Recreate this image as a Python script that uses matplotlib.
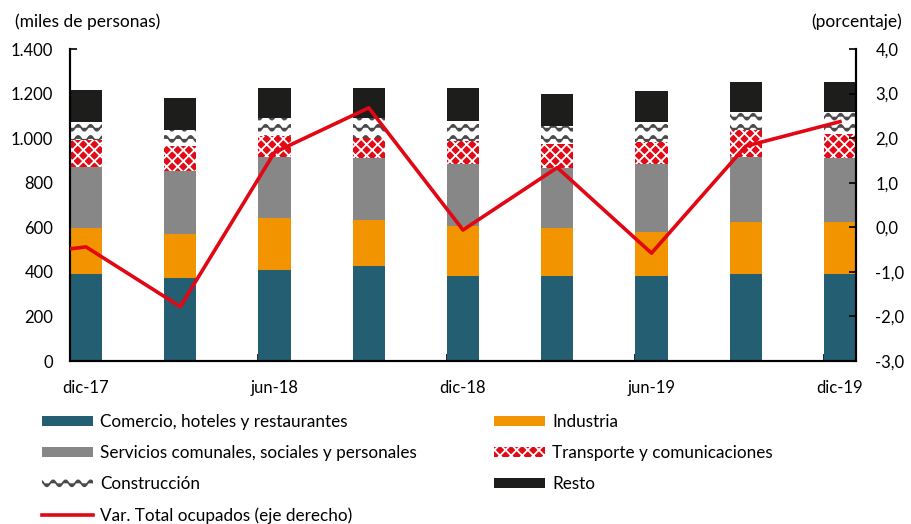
import numpy as np
import matplotlib
matplotlib.use("Agg")
import matplotlib.pyplot as plt
from matplotlib import hatch as mhatch
from matplotlib.path import Path
from matplotlib.ticker import FuncFormatter

periodos = ['dic-17', 'mar-18', 'jun-18', 'sep-18', 'dic-18',
            'mar-19', 'jun-19', 'sep-19', 'dic-19']
comercio = [392, 372, 408, 426, 381, 381, 381, 392, 392]
industria = [205, 198, 232, 207, 225, 214, 198, 232, 232]
servicios = [275, 284, 277, 276, 276, 269, 303, 293, 285]
transporte = [119, 111, 92, 90, 106, 108, 102, 119, 109]
construccion = [80, 71, 83, 90, 90, 82, 87, 80, 98]
resto = [143, 142, 131, 134, 145, 142, 142, 134, 134]
# variacion total ocupados (incluye sep-17, fuera del grafico)
var_total = [-0.7, -0.44, -1.78, 1.68, 2.68, -0.06, 1.34, -0.58, 1.82, 2.37]


# trama ondulada para Construccion (reemplaza la trama 'o')
class WaveHatch(mhatch.HatchPatternBase):
    def __init__(self, hatch, density):
        self.num_rows = 9 if 'o' in hatch else 0
        self.num_pts = 81
        self.num_vertices = self.num_rows * self.num_pts

    def set_vertices_and_codes(self, vertices, codes):
        t = np.linspace(0, 1, self.num_pts)
        k = 0
        for r in range(self.num_rows):
            vertices[k:k + self.num_pts, 0] = t
            vertices[k:k + self.num_pts, 1] = (r + 0.5) / self.num_rows + 0.03 * np.sin(2 * np.pi * 8 * t)
            codes[k] = Path.MOVETO
            codes[k + 1:k + self.num_pts] = Path.LINETO
            k += self.num_pts


mhatch._hatch_types = [WaveHatch if t is mhatch.SmallCircles else t for t in mhatch._hatch_types]

plt.rcParams['font.family'] = ['Lato', 'DejaVu Sans']
plt.rcParams['font.size'] = 12.5
plt.rcParams['hatch.linewidth'] = 1.3

fig = plt.figure(figsize=(9.11, 5.24), dpi=100)
ax = fig.add_axes([70 / 911, 1 - 361 / 524, 786 / 911, 312 / 524])
ax2 = ax.twinx()

x = np.arange(len(periodos))
w = 0.34
bottom = np.zeros(len(x))
series = [
    (comercio, 'Comercio, hoteles y restaurantes', dict(color='#245e73')),
    (industria, 'Industria', dict(color='#f29400')),
    (servicios, 'Servicios comunales, sociales y personales', dict(color='#878787')),
    (transporte, 'Transporte y comunicaciones', dict(facecolor='#e30a17', edgecolor='white', hatch='xxx', linewidth=0)),
    (construccion, 'Construcción', dict(facecolor='white', edgecolor='#4a4a4a', hatch='o', linewidth=0)),
    (resto, 'Resto', dict(color='#1d1d1b')),
]
handles = {}
for vals, name, style in series:
    b = ax.bar(x, vals, w, bottom=bottom, label=name, zorder=2, **style)
    handles[name] = b
    bottom += np.array(vals)

line, = ax2.plot(np.arange(-1, len(periodos)), var_total, color='#e30613', lw=2.6,
                 label='Var. Total ocupados (eje derecho)', zorder=3)

ax.set_xlim(-0.17, 8.17)
ax.set_ylim(0, 1400)
ax.set_yticks(range(0, 1401, 200))
ax.yaxis.set_major_formatter(FuncFormatter(lambda v, p: f'{int(v):,}'.replace(',', '.')))
ax2.set_ylim(-3, 4)
ax2.set_yticks(range(-3, 5))
ax2.yaxis.set_major_formatter(FuncFormatter(lambda v, p: f'{v:.1f}'.replace('.', ',')))

ax.set_xticks(x[::2])
ax.set_xticklabels(periodos[::2])
ax.set_xticks([-0.17, 1.83, 3.83, 5.83, 7.83], minor=True)
ax.tick_params(axis='x', which='major', length=0, pad=14, labelsize=12)
ax.tick_params(axis='x', which='minor', direction='in', length=5, width=1.2)
ax.tick_params(axis='y', direction='in', length=5, width=1.2, pad=12, labelsize=12)
ax2.tick_params(axis='y', direction='in', length=5, width=1.2, pad=14, labelsize=12)

for a in (ax, ax2):
    a.spines['top'].set_visible(False)
    for s in ('left', 'right', 'bottom'):
        a.spines[s].set_linewidth(1.5)

fig.text(15 / 911, 1 - 22 / 524, '(miles de personas)', va='center', ha='left')
fig.text(902 / 911, 1 - 22 / 524, '(porcentaje)', va='center', ha='right')

leg_kw = dict(frameon=False, handlelength=3.0, handleheight=0.6, handletextpad=0.4,
              labelspacing=0.88, borderaxespad=0, borderpad=0, fontsize=12.3)
col1 = ['Comercio, hoteles y restaurantes', 'Servicios comunales, sociales y personales', 'Construcción']
col2 = ['Industria', 'Transporte y comunicaciones', 'Resto']
fig.legend([handles[n] for n in col1] + [line], col1 + [line.get_label()],
           loc='upper left', bbox_to_anchor=(42 / 911, 1 - 414 / 524), **leg_kw)
fig.legend([handles[n] for n in col2], col2,
           loc='upper left', bbox_to_anchor=(494 / 911, 1 - 414 / 524), **leg_kw)

fig.savefig('out.png', dpi=100)
